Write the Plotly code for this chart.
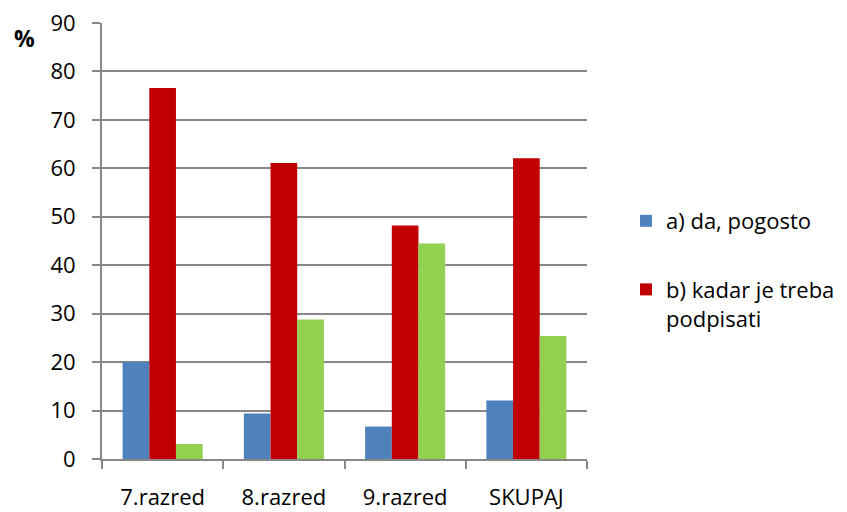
import plotly.graph_objects as go

categories = ["7.razred", "8.razred", "9.razred", "SKUPAJ"]
series_a = [20.0, 9.4, 6.7, 12.1]     # a) da, pogosto
series_b = [76.6, 61.1, 48.2, 62.1]   # b) kadar je treba podpisati
series_c = [3.1, 28.8, 44.5, 25.4]    # third answer (legend entry cut off)
y_ticks = [0, 10, 20, 30, 40, 50, 60, 70, 80, 90]

FONT = "Open Sans"
GRID = "#878787"

# the page body has an 8px margin, so the figure is made 8px smaller
W, H = 839, 504
L, R, T, B = 94, 260, 15, 53
PW, PH = W - L - R, H - T - B

fig = go.Figure()
fig.add_trace(go.Bar(x=categories, y=series_a, name="a) da, pogosto",
                     marker_color="#4F81BD", legendgroup="a"))
fig.add_trace(go.Bar(x=categories, y=series_b, name="b) kadar je treba<br>podpisati",
                     marker_color="#C00000", legendgroup="b"))
fig.add_trace(go.Bar(x=categories, y=series_c, name="c)",
                     marker_color="#92D050", showlegend=False, legendgroup="c"))

fig.update_traces(marker_line_width=0)

fig.update_layout(
    width=W, height=H,
    margin=dict(l=L, r=R, t=T, b=B, autoexpand=False),
    paper_bgcolor="white", plot_bgcolor="white",
    barmode="group", bargap=0.34, bargroupgap=0,
    font=dict(family=FONT, size=22, color="black"),
    legend=dict(x=(618 - L) / PW, y=(451 - 192) / PH, xanchor="left", yanchor="top",
                valign="top", tracegroupgap=37, traceorder="grouped",
                bgcolor="rgba(0,0,0,0)", font=dict(size=22)),
    xaxis=dict(showline=True, linecolor=GRID, linewidth=2,
               ticks="outside", tickson="boundaries", ticklen=8,
               tickcolor=GRID, tickwidth=2, ticklabelstandoff=18,
               automargin=False),
    yaxis=dict(range=[0, 90], tickvals=y_ticks, showgrid=True,
               gridcolor=GRID, gridwidth=2, showline=True, linecolor=GRID,
               linewidth=2, ticks="outside", ticklen=8, tickcolor=GRID,
               tickwidth=2, ticklabelstandoff=12, zeroline=False,
               automargin=False, ticklabeloverflow="allow"),
    annotations=[dict(text="<b>%</b>", x=(16 - L) / PW, y=(451 - 30) / PH,
                      xref="paper", yref="paper", xanchor="center",
                      yanchor="middle", showarrow=False, font=dict(size=23))],
)

fig.write_html("out.html")
